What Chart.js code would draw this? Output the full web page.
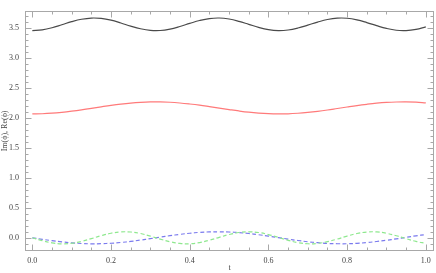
<!DOCTYPE html>
<html>
<head>
<meta charset="utf-8">
<script src="https://cdn.jsdelivr.net/npm/chart.js@4/dist/chart.umd.min.js"></script>
<style>
html,body{margin:0;padding:0;background:#fff;}
#wrap{width:436px;height:273px;position:relative;}
</style>
</head>
<body>
<div id="wrap"><canvas id="c" width="436" height="273"></canvas></div>
<script>
const tValues = [0,0.025,0.05,0.075,0.1,0.125,0.15,0.175,0.2,0.225,0.25,0.275,0.3,0.325,0.35,0.375,0.4,0.425,0.45,0.475,0.5,0.525,0.55,0.575,0.6,0.625,0.65,0.675,0.7,0.725,0.75,0.775,0.8,0.825,0.85,0.875,0.9,0.925,0.95,0.975,1.0];
const blackSeries = [3.450,3.463,3.498,3.548,3.599,3.639,3.659,3.653,3.624,3.577,3.525,3.481,3.454,3.452,3.476,3.519,3.570,3.618,3.651,3.660,3.643,3.605,3.555,3.504,3.466,3.450,3.460,3.493,3.541,3.592,3.635,3.658,3.656,3.629,3.584,3.532,3.486,3.456,3.451,3.471,3.512];
const redSeries = [2.063,2.066,2.075,2.090,2.109,2.131,2.156,2.181,2.205,2.226,2.243,2.255,2.262,2.262,2.257,2.245,2.228,2.208,2.184,2.159,2.135,2.112,2.092,2.077,2.067,2.063,2.065,2.074,2.088,2.106,2.128,2.153,2.178,2.202,2.223,2.241,2.254,2.261,2.263,2.258,2.247];
const greenSeries = [0,-0.048,-0.084,-0.100,-0.091,-0.060,-0.014,0.035,0.076,0.098,0.096,0.071,0.028,-0.022,-0.066,-0.094,-0.099,-0.080,-0.041,0.008,0.054,0.088,0.100,0.088,0.054,0.007,-0.042,-0.080,-0.099,-0.093,-0.065,-0.021,0.029,0.071,0.096,0.098,0.075,0.034,-0.015,-0.061,-0.091];
const blueSeries = [0,-0.025,-0.048,-0.068,-0.084,-0.095,-0.100,-0.098,-0.091,-0.078,-0.060,-0.038,-0.014,0.011,0.035,0.057,0.076,0.090,0.098,0.100,0.096,0.086,0.071,0.051,0.028,0.003,-0.022,-0.045,-0.066,-0.082,-0.094,-0.099,-0.099,-0.092,-0.080,-0.062,-0.041,-0.018,0.008,0.033,0.054];
const xTickValues = [0,0.2,0.4,0.6,0.8,1.0];
const yTickValues = [0,0.5,1.0,1.5,2.0,2.5,3.0,3.5];
const xMinorStep = 0.05;
const yMinorStep = 0.1;

function pts(ys){ return tValues.map((t,i)=>({x:t,y:ys[i]})); }

const frameColor = '#a8a8a8';
const framePlugin = {
  id:'frame',
  afterDraw(chart){
    const {ctx, chartArea:a, scales:{x,y}} = chart;
    ctx.save();
    ctx.strokeStyle = frameColor;
    ctx.lineWidth = 1;
    ctx.strokeRect(Math.round(a.left)+0.5, Math.round(a.top)+0.5, Math.round(a.right-a.left)-1, Math.round(a.bottom-a.top)-1);
    ctx.beginPath();
    const L = Math.round(a.left)+0.5, R = Math.round(a.right)-0.5, T = Math.round(a.top)+0.5, B = Math.round(a.bottom)-0.5;
    // x ticks
    for(let v=-0.0; v<=1.0001+0.02; v+=xMinorStep){
      const vv = Math.round(v*1000)/1000;
      if(vv < x.min || vv > x.max) continue;
      const px = Math.round(x.getPixelForValue(vv))+0.5;
      const major = xTickValues.some(t=>Math.abs(t-vv)<1e-6);
      const len = major ? 6 : 3;
      ctx.moveTo(px,B); ctx.lineTo(px,B-len);
      ctx.moveTo(px,T); ctx.lineTo(px,T+len);
    }
    for(let k=-2; k<=38; k++){
      const vv = Math.round(k*yMinorStep*1000)/1000;
      if(vv < y.min || vv > y.max) continue;
      const py = Math.round(y.getPixelForValue(vv))+0.5;
      const major = yTickValues.some(t=>Math.abs(t-vv)<1e-6);
      const len = major ? 6 : 3;
      ctx.moveTo(L,py); ctx.lineTo(L+len,py);
      ctx.moveTo(R,py); ctx.lineTo(R-len,py);
    }
    ctx.stroke();
    ctx.restore();
  }
};

const serif = "'Liberation Serif','DejaVu Serif',serif";

new Chart(document.getElementById('c'), {
  type:'line',
  data:{
    datasets:[
      {data:pts(blackSeries), borderColor:'#4a4a4a', borderWidth:1.2, pointRadius:0, tension:0.4, fill:false},
      {data:pts(redSeries), borderColor:'#ff7a7a', borderWidth:1.2, pointRadius:0, tension:0.4, fill:false},
      {data:pts(greenSeries), borderColor:'#8ee88e', borderWidth:1.2, borderDash:[4,2.5], pointRadius:0, tension:0.4, fill:false},
      {data:pts(blueSeries), borderColor:'#7a7aee', borderWidth:1.2, borderDash:[4,2.5], pointRadius:0, tension:0.4, fill:false}
    ]
  },
  options:{
    responsive:false,
    animation:false,
    layout:{padding:{left:0,right:2,top:0,bottom:0}},
    plugins:{legend:{display:false}, tooltip:{enabled:false}},
    scales:{
      x:{
        type:'linear', min:-0.0186, max:1.0208,
        afterBuildTicks(s){ s.ticks = xTickValues.map(v=>({value:v})); },
        afterFit(s){ s.height = 22; },
        grid:{display:false, drawTicks:false},
        border:{display:false},
        ticks:{padding:5, color:'#444', font:{family:serif, size:8}, callback:(v)=>Number(v).toFixed(1), maxRotation:0, autoSkip:false},
        title:{display:true, text:'t', color:'#444', font:{family:serif, size:8}, padding:0}
      },
      y:{
        type:'linear', min:-0.22, max:3.78,
        afterBuildTicks(s){ s.ticks = yTickValues.map(v=>({value:v})); },
        afterFit(s){ s.width = 25; },
        grid:{display:false, drawTicks:false},
        border:{display:false},
        ticks:{padding:6, color:'#444', font:{family:serif, size:8}, callback:(v)=>Number(v).toFixed(1), autoSkip:false},
        title:{display:true, text:'Im(ϕ), Re(ϕ)', color:'#444', font:{family:serif, size:8}, padding:0}
      }
    }
  },
  plugins:[framePlugin]
});
</script>
</body>
</html>
